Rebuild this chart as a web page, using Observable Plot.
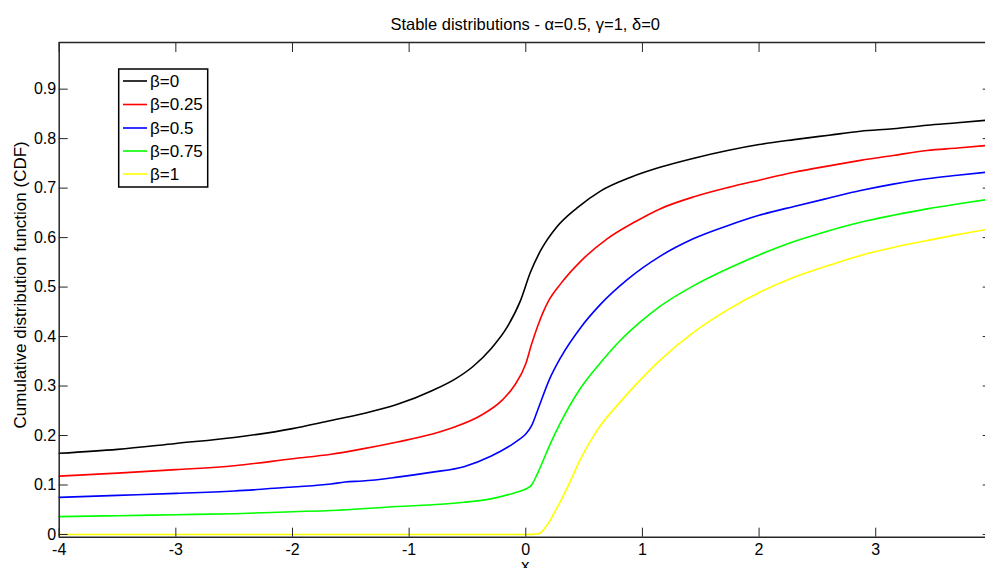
<!DOCTYPE html>
<html>
<head>
<meta charset="utf-8">
<script src="https://cdn.jsdelivr.net/npm/d3@7"></script>
<script src="https://cdn.jsdelivr.net/npm/@observablehq/plot@0.6"></script>
<style>
  html, body { margin: 0; padding: 0; background: #fff; overflow: hidden; }
  #chart svg { display: block; }
</style>
</head>
<body>
<div id="chart"></div>
<script>
// ---- Data ----
const titleText = "Stable distributions - \u03B1=0.5, \u03B3=1, \u03B4=0";
const yLabelText = "Cumulative distribution function (CDF)";
const xLabelText = "x";

const seriesNames = ["\u03B2=0", "\u03B2=0.25", "\u03B2=0.5", "\u03B2=0.75", "\u03B2=1"];
const seriesColors = ["#000000", "#ff0000", "#0000ff", "#00ff00", "#ffff00"];

const xTicks = [-4, -3, -2, -1, 0, 1, 2, 3];
const yTicks = [0, 0.1, 0.2, 0.3, 0.4, 0.5, 0.6, 0.7, 0.8, 0.9];
const xDomain = [-4, 3.99];
const yDomain = [-0.0055, 0.9943];

// beta = 0
const x0 = [-4, -3.5, -3, -2.5, -2, -1.7, -1.4, -1.1, -0.8, -0.6, -0.45, -0.3, -0.16, -0.05, 0.04, 0.13, 0.26, 0.44, 0.64, 0.9, 1.15, 1.45, 1.73, 2.0, 2.3, 2.6, 2.87, 3.15, 3.44, 3.7, 3.99];
const y0 = [0.164, 0.172, 0.184, 0.196, 0.214, 0.229, 0.244, 0.263, 0.291, 0.315, 0.340, 0.375, 0.419, 0.470, 0.530, 0.575, 0.620, 0.660, 0.694, 0.722, 0.742, 0.761, 0.776, 0.788, 0.798, 0.807, 0.815, 0.820, 0.827, 0.832, 0.838];
// beta = 0.25
const x1 = [-4, -3.5, -3, -2.5, -2, -1.67, -1.4, -1.1, -0.8, -0.6, -0.39, -0.2, -0.1, 0, 0.05, 0.1, 0.15, 0.2, 0.3, 0.47, 0.7, 0.93, 1.15, 1.45, 1.73, 2.0, 2.3, 2.6, 2.87, 3.15, 3.44, 3.7, 3.99];
const y1 = [0.118, 0.124, 0.131, 0.139, 0.153, 0.162, 0.173, 0.187, 0.203, 0.218, 0.240, 0.272, 0.300, 0.345, 0.385, 0.420, 0.450, 0.474, 0.507, 0.552, 0.598, 0.631, 0.658, 0.683, 0.701, 0.716, 0.732, 0.745, 0.756, 0.766, 0.776, 0.781, 0.787];
// beta = 0.5
const x2 = [-4, -3.5, -3, -2.5, -2, -1.67, -1.55, -1.4, -1.1, -0.8, -0.53, -0.3, -0.13, -0.05, 0, 0.05, 0.1, 0.2, 0.3, 0.47, 0.64, 0.87, 1.15, 1.44, 1.73, 2.0, 2.3, 2.6, 2.87, 3.15, 3.44, 3.7, 3.99];
const y2 = [0.075, 0.079, 0.083, 0.088, 0.096, 0.102, 0.106, 0.108, 0.116, 0.126, 0.137, 0.158, 0.180, 0.193, 0.203, 0.220, 0.250, 0.312, 0.358, 0.418, 0.465, 0.515, 0.562, 0.598, 0.624, 0.645, 0.663, 0.680, 0.695, 0.708, 0.719, 0.726, 0.733];
// beta = 0.75
const x3 = [-4, -3.5, -3, -2.5, -2, -1.67, -1.1, -0.73, -0.53, -0.3, -0.1, 0, 0.05, 0.1, 0.15, 0.21, 0.3, 0.47, 0.64, 0.81, 0.98, 1.15, 1.44, 1.73, 2.01, 2.3, 2.6, 2.87, 3.15, 3.44, 3.7, 3.99];
const y3 = [0.036, 0.038, 0.040, 0.042, 0.046, 0.0485, 0.0566, 0.061, 0.065, 0.072, 0.084, 0.092, 0.100, 0.123, 0.150, 0.183, 0.227, 0.296, 0.347, 0.392, 0.429, 0.461, 0.503, 0.537, 0.566, 0.592, 0.614, 0.631, 0.645, 0.658, 0.668, 0.678];
// beta = 1
const x4 = [-4, -3, -2, -1, 0, 0.1, 0.13, 0.16, 0.2, 0.24, 0.3, 0.355, 0.47, 0.61, 0.81, 0.98, 1.15, 1.44, 1.73, 2.01, 2.3, 2.6, 2.87, 3.15, 3.44, 3.7, 3.99];
const y4 = [0, 0, 0, 0, 0, 0.001, 0.004, 0.012, 0.025, 0.042, 0.068, 0.094, 0.153, 0.210, 0.268, 0.312, 0.352, 0.409, 0.454, 0.490, 0.520, 0.544, 0.564, 0.580, 0.594, 0.606, 0.618];

const xsAll = [x0, x1, x2, x3, x4];
const ysAll = [y0, y1, y2, y3, y4];

// ---- Build table ----
const rows = [];
xsAll.forEach((xs, s) => xs.forEach((x, i) => rows.push({series: seriesNames[s], x, y: ysAll[s][i]})));

const FONT = "'Liberation Sans', Arial, Helvetica, sans-serif";
const W = 985, H = 568;
const mL = 58.7, mR = -5.7, mT = 42, mB = 31.3;
const axisColor = "#262626";
const noText = () => "";

const plot = Plot.plot({
  width: W,
  height: H,
  marginLeft: mL,
  marginRight: mR,
  marginTop: mT,
  marginBottom: mB,
  style: {fontFamily: FONT, fontSize: "16px", color: axisColor, background: "#fff", overflow: "hidden"},
  x: {domain: xDomain, axis: null},
  y: {domain: yDomain, axis: null},
  marks: [
    // curves
    ...seriesNames.map((name, s) =>
      Plot.line(rows.filter(r => r.series === name), {x: "x", y: "y", stroke: seriesColors[s], strokeWidth: 1.6, curve: "monotone-x"})
    ),
    // box
    Plot.ruleY([yDomain[0]], {stroke: axisColor, strokeWidth: 1.5}),
    Plot.ruleY([yDomain[1]], {stroke: axisColor, strokeWidth: 1.5}),
    Plot.ruleX([xDomain[0]], {stroke: axisColor, strokeWidth: 1.5}),
    Plot.ruleX([xDomain[1]], {stroke: axisColor, strokeWidth: 1.5}),
    // inward ticks (no text)
    Plot.axisX(xTicks, {anchor: "bottom", tickSize: 9, dy: -9, tickFormat: noText, label: null, stroke: axisColor}),
    Plot.axisX(xTicks, {anchor: "top", tickSize: 9, dy: 9, tickFormat: noText, label: null, stroke: axisColor}),
    Plot.axisY(yTicks, {anchor: "left", tickSize: 9, dx: 9, tickFormat: noText, label: null, stroke: axisColor}),
    Plot.axisY(yTicks, {anchor: "right", tickSize: 9, dx: -9, tickFormat: noText, label: null, stroke: axisColor}),
    // tick labels
    Plot.axisX(xTicks, {anchor: "bottom", tickSize: 0, tickPadding: 6, tickFormat: d => String(d), label: null, fill: "#000", fontSize: 16}),
    Plot.axisY(yTicks, {anchor: "left", tickSize: 0, tickPadding: 3, tickFormat: d => String(d), label: null, fill: "#000", fontSize: 16}),
    // title and axis labels
    Plot.text([titleText], {frameAnchor: "top", lineAnchor: "middle", textAnchor: "middle", dy: -18, fontSize: 16.5, fill: "#000"}),
    Plot.text([yLabelText], {frameAnchor: "left", textAnchor: "middle", lineAnchor: "middle", rotate: -90, dx: -39, dy: -5, fontSize: 17, fill: "#000"}),
    Plot.text([xLabelText], {frameAnchor: "bottom", textAnchor: "middle", lineAnchor: "middle", dy: 28.5, fontSize: 17, fill: "#000"})
  ]
});

document.getElementById("chart").appendChild(plot);

// ---- Legend (inside the axes, top-left) ----
const svg = d3.select(plot);
const lg = svg.append("g").attr("font-family", FONT).attr("font-size", 17).attr("text-anchor", "start");
lg.append("rect")
  .attr("x", 118.7).attr("y", 69).attr("width", 89).attr("height", 118)
  .attr("fill", "#fff").attr("stroke", "#000").attr("stroke-width", 1.5);
const rowYs = [81, 104.5, 128, 151, 174];
seriesNames.forEach((name, i) => {
  lg.append("line")
    .attr("x1", 123).attr("x2", 147).attr("y1", rowYs[i]).attr("y2", rowYs[i])
    .attr("stroke", seriesColors[i]).attr("stroke-width", 1.6);
  lg.append("text")
    .attr("x", 150).attr("y", rowYs[i]).attr("dy", "0.35em")
    .attr("text-anchor", "start")
    .attr("fill", "#000").text(name);
});
</script>
</body>
</html>
